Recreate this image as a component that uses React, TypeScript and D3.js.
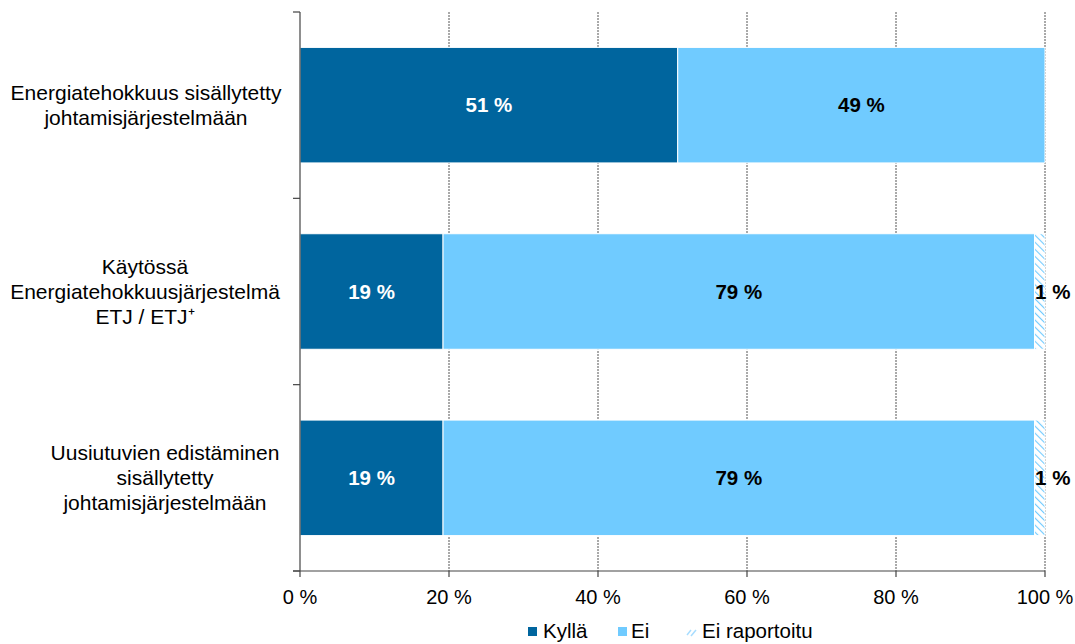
import React from "react";
import * as d3 from "d3";

const categories = [
  ["Energiatehokkuus sisällytetty", "johtamisjärjestelmään"],
  ["Käytössä", "Energiatehokkuusjärjestelmä", "ETJ / ETJ⁺"],
  ["Uusiutuvien edistäminen", "sisällytetty", "johtamisjärjestelmään"],
];
const kylla = [50.7, 19.2, 19.2];
const ei = [49.3, 79.4, 79.4];
const eiRaportoitu = [0, 1.4, 1.4];
const xTicks = [0, 20, 40, 60, 80, 100];
const seriesNames = ["Kyllä", "Ei", "Ei raportoitu"];

const W = 1075, H = 644;
const left = 300, right = 1045, top = 12, bottom = 571;
const FONT = "Liberation Sans, Arial, sans-serif";
const C_KYLLA = "#00659E";
const C_EI = "#70CBFF";
const catLabelX = [146, 145, 165];

export default function App() {
  const x = d3.scaleLinear().domain([0, 100]).range([left, right]);
  const y = d3.scaleBand<number>().domain(d3.range(categories.length)).range([top, bottom]).paddingInner(0.38).paddingOuter(0.19);
  const band = d3.scaleBand<number>().domain(d3.range(categories.length)).range([top, bottom]);
  const series = [kylla, ei, eiRaportoitu];
  const fills = [C_KYLLA, C_EI, "url(#hatch)"];
  const labelColors = ["#fff", "#000", "#000"];

  return (
    <svg width={W} height={H} style={{ position: "absolute", left: 0, top: 0, background: "#fff" }}>
      <defs>
        <pattern id="hatch" patternUnits="userSpaceOnUse" width="5" height="5" patternTransform="rotate(-45)">
          <rect width="5" height="5" fill="#fff" />
          <line x1="0" y1="0" x2="0" y2="5" stroke="#70CBFF" strokeWidth="2.2" />
        </pattern>
      </defs>
      {xTicks.filter((t) => t > 0).map((t) => (
        <line key={t} x1={x(t)} x2={x(t)} y1={top} y2={bottom} stroke="#555" strokeWidth={1} strokeDasharray="2,1" />
      ))}
      {categories.map((_, i) => {
        let acc = 0;
        return series.map((s, k) => {
          const v = s[i];
          const x0 = acc;
          acc += v;
          if (v <= 0) return null;
          return (
            <rect key={`${i}-${k}`} x={x(x0)} y={y(i)} width={x(x0 + v) - x(x0)} height={y.bandwidth()} fill={fills[k]} stroke="#fff" strokeWidth={1} />
          );
        });
      })}
      {categories.map((_, i) => {
        let acc = 0;
        return series.map((s, k) => {
          const v = s[i];
          const x0 = acc;
          acc += v;
          if (v <= 0) return null;
          const small = k === 2;
          return (
            <text key={`l${i}-${k}`} x={small ? x(x0) + 0.5 : x(x0 + v / 2)} y={y(i)! + y.bandwidth() / 2} dy="0.35em" textAnchor={small ? "start" : "middle"} fontFamily={FONT} fontWeight="bold" fontSize={20.5} fill={labelColors[k]}>
              {`${Math.max(1, Math.round(v))} %`}
            </text>
          );
        });
      })}
      <line x1={left} x2={left} y1={top} y2={bottom} stroke="#444" strokeWidth={1.2} />
      <line x1={left - 7} x2={right} y1={bottom} y2={bottom} stroke="#444" strokeWidth={1.2} />
      {d3.range(categories.length + 1).map((i) => {
        const yy = i < categories.length ? band(i)! : bottom;
        return <line key={`yt${i}`} x1={left - 7} x2={left} y1={yy} y2={yy} stroke="#444" strokeWidth={1.2} />;
      })}
      {xTicks.map((t) => (
        <g key={`xt${t}`}>
          <line x1={x(t)} x2={x(t)} y1={bottom} y2={bottom + 6} stroke="#444" strokeWidth={1.2} />
          <text x={x(t)} y={604} textAnchor="middle" fontFamily={FONT} fontSize={20} fill="#000">{`${t} %`}</text>
        </g>
      ))}
      {categories.map((lines, i) => {
        const cy = y(i)! + y.bandwidth() / 2;
        const lh = 25;
        const startY = cy - ((lines.length - 1) * lh) / 2;
        return (
          <text key={`c${i}`} textAnchor="middle" fontFamily={FONT} fontSize={21} fill="#000">
            {lines.map((ln, j) => (
              <tspan key={j} x={catLabelX[i]} y={startY + j * lh} dy="0.35em">{ln}</tspan>
            ))}
          </text>
        );
      })}
      {seriesNames.map((n, k) => {
        const lx = [528, 618, 686][k];
        const tx = [543, 631, 702][k];
        return (
          <g key={`lg${k}`}>
            {k < 2 ? (
              <rect x={lx} y={627} width={9} height={9} fill={fills[k]} />
            ) : (
              <g>
                <line x1={lx + 1} y1={635} x2={lx + 5} y2={630} stroke="#A8DDFF" strokeWidth={1.5} />
                <line x1={lx + 5} y1={636} x2={lx + 10} y2={630} stroke="#A8DDFF" strokeWidth={1.5} />
              </g>
            )}
            <text x={tx} y={638} fontFamily={FONT} fontSize={20.5} fill="#000">{n}</text>
          </g>
        );
      })}
    </svg>
  );
}
